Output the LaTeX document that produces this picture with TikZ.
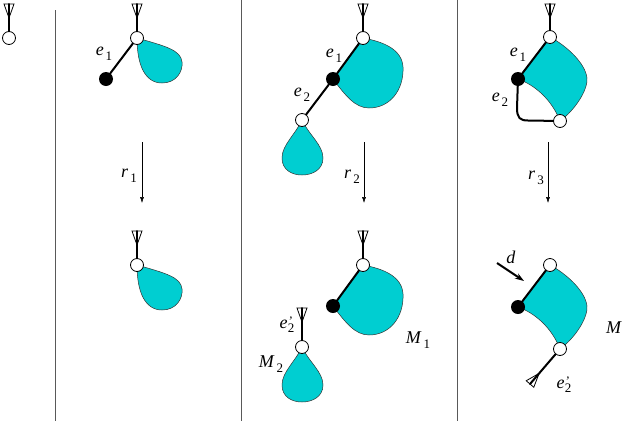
\documentclass[tikz,border=0pt]{standalone}
\usepackage{fontspec}
\setmainfont{Liberation Serif}
\usetikzlibrary{calc,arrows.meta}
\definecolor{blobc}{RGB}{0,206,209}
\newcommand\lab[2]{\textit{#1}\kern2pt\raisebox{-0.55ex}{\fontsize{13}{13}\selectfont #2}}
\newcommand\labp[2]{\textit{#1}\kern0.5pt\raisebox{-0.55ex}{\fontsize{13}{13}\selectfont\makebox[0pt][l]{\raisebox{1.15ex}{\textit{'}}}#2}}
\newcommand\rootmk[2]{%
  \draw[edg] (#1) -- (#2);
  \draw[line width=0.8pt,line join=miter] ($(#2)!5pt!90:(#1)$) -- ($(#2)!14pt!(#1)$) -- ($(#2)!5pt!-90:(#1)$) -- cycle;}
\begin{document}
\begin{tikzpicture}[x=1pt,y=-1pt,
 wn/.style={circle,draw,fill=white,line width=0.8pt,minimum size=13pt,inner sep=0pt},
 bn/.style={circle,fill=black,minimum size=14pt,inner sep=0pt},
 edg/.style={line width=2pt,line cap=round},
 blob/.style={fill=blobc,draw=black!80,line width=0.5pt},
 sep/.style={draw=black!65,line width=1pt},
 redarrow/.style={-{Latex[length=6pt,width=4pt]},line width=0.5pt},
 lbl/.style={font=\fontsize{18}{18}\selectfont,inner sep=0pt}]
\useasboundingbox (0,0) rectangle (627,421);
% separators
\coordinate (s1a) at (55,10); \coordinate (s1b) at (55,421);
\coordinate (s2a) at (241,0); \coordinate (s2b) at (241,421);
\coordinate (s3a) at (457,0); \coordinate (s3b) at (457,421);
\draw[sep] (s1a) -- (s1b);
\draw[sep] (s2a) -- (s2b);
\draw[sep] (s3a) -- (s3b);
% ---------- panel 1
\node[wn] (p1a) at (9,38) {};
\coordinate (p1r) at (9,4);
\rootmk{p1a}{p1r}
% ---------- panel 2 top
\path[blob] (137,38) .. controls (137,65) and (145,83) .. (162,83) .. controls (176,83) and (183,72) .. (182,62) .. controls (181,50) and (165,46) .. (137,38) -- cycle;
\node[wn] (p2a) at (137,38) {};
\node[bn] (p2b) at (106,79) {};
\draw[edg] (p2a) -- (p2b);
\coordinate (p2r) at (137,4);
\rootmk{p2a}{p2r}
\node[lbl] (le1a) at (104,54) {\lab{e}{1}};
\coordinate (r1s) at (142,142); \coordinate (r1e) at (142,203);
\draw[redarrow] (r1s) -- (r1e);
\node[lbl] (lr1) at (129,176) {\lab{r}{1}};
% ---------- panel 2 bottom
\begin{scope}[yshift=-227pt]
\path[blob] (137,38) .. controls (137,65) and (145,83) .. (162,83) .. controls (176,83) and (183,72) .. (182,62) .. controls (181,50) and (165,46) .. (137,38) -- cycle;
\node[wn] (p2c) at (137,38) {};
\coordinate (p2cr) at (137,4);
\rootmk{p2c}{p2cr}
\end{scope}
% ---------- panel 3 top
\path[blob] (363,38) -- (333,79) .. controls (345,95) and (355,108) .. (369,108) .. controls (390,108) and (404,90) .. (403,67) .. controls (402,50) and (385,42) .. (363,38) -- cycle;
\path[blob] (302,120) .. controls (295,135) and (282,145) .. (282,158) .. controls (282,170) and (292,175) .. (302,175) .. controls (312,175) and (323,170) .. (323,158) .. controls (323,145) and (309,135) .. (302,120) -- cycle;
\node[wn] (p3a) at (363,38) {};
\node[bn] (p3b) at (333,79) {};
\node[wn] (p3c) at (302,120) {};
\draw[edg] (p3a) -- (p3b);
\draw[edg] (p3b) -- (p3c);
\coordinate (p3r) at (363,4);
\rootmk{p3a}{p3r}
\node[lbl] (le1b) at (334,56) {\lab{e}{1}};
\node[lbl] (le2b) at (302,95) {\lab{e}{2}};
\coordinate (r2s) at (364,142); \coordinate (r2e) at (364,203);
\draw[redarrow] (r2s) -- (r2e);
\node[lbl] (lr2) at (352,177) {\lab{r}{2}};
% ---------- panel 3 bottom
\begin{scope}[yshift=-227pt]
\path[blob] (363,38) -- (333,79) .. controls (345,95) and (355,108) .. (369,108) .. controls (390,108) and (404,90) .. (403,67) .. controls (402,50) and (385,42) .. (363,38) -- cycle;
\path[blob] (302,120) .. controls (295,135) and (282,145) .. (282,158) .. controls (282,170) and (292,175) .. (302,175) .. controls (312,175) and (323,170) .. (323,158) .. controls (323,145) and (309,135) .. (302,120) -- cycle;
\node[wn] (p3d) at (363,38) {};
\node[bn] (p3e) at (333,79) {};
\node[wn] (p3f) at (302,120) {};
\draw[edg] (p3d) -- (p3e);
\coordinate (p3dr) at (363,4);
\rootmk{p3d}{p3dr}
\coordinate (p3fr) at (302,81);
\rootmk{p3f}{p3fr}
\end{scope}
\node[lbl] (le2c) at (287,325) {\labp{e}{2}};
\node[lbl] (lM2) at (271,364) {\lab{M}{2}};
\node[lbl] (lM1) at (418,340) {\lab{M}{1}};
% ---------- panel 4 top
\path[blob] (550,37) -- (518,79) .. controls (535,85) and (552,100) .. (560,121) .. controls (575,110) and (588,90) .. (587,78) .. controls (585,62) and (565,45) .. (550,37) -- cycle;
\node[wn] (p4a) at (550,37) {};
\node[bn] (p4b) at (518,79) {};
\node[wn] (p4c) at (560,121) {};
\draw[edg] (p4a) -- (p4b);
\coordinate (p4k1) at (517,108);
\coordinate (p4k2) at (528,120.5);
\draw[edg] (p4b) -- (p4k1) .. controls (517,118) and (520,120.5) .. (p4k2) -- (p4c);
\coordinate (p4r) at (550,4);
\rootmk{p4a}{p4r}
\node[lbl] (le1d) at (518,55) {\lab{e}{1}};
\node[lbl] (le2d) at (500,100) {\lab{e}{2}};
\coordinate (r3s) at (548,142); \coordinate (r3e) at (548,203);
\draw[redarrow] (r3s) -- (r3e);
\node[lbl] (lr3) at (536,178) {\lab{r}{3}};
% ---------- panel 4 bottom
\begin{scope}[yshift=-228pt]
\path[blob] (550,37) -- (518,79) .. controls (535,85) and (552,100) .. (560,121) .. controls (575,110) and (588,90) .. (587,78) .. controls (585,62) and (565,45) .. (550,37) -- cycle;
\node[wn] (p4d) at (550,37) {};
\node[bn] (p4e) at (518,79) {};
\node[wn] (p4f) at (560,121) {};
\draw[edg] (p4d) -- (p4e);
\end{scope}
\coordinate (p4fr) at (530,384);
\rootmk{p4f}{p4fr}
\coordinate (ds) at (497,263);
\coordinate (de) at (524,281);
\draw[line width=2pt,-{Stealth[length=9pt,width=6pt]}] (ds) -- (de);
\node[lbl] (ld) at (511,257) {\textit{d}};
\node[lbl] (le2e) at (564,385) {\labp{e}{2}};
\node[lbl] (lM) at (614,328) {\textit{M}};
\end{tikzpicture}
\end{document}
